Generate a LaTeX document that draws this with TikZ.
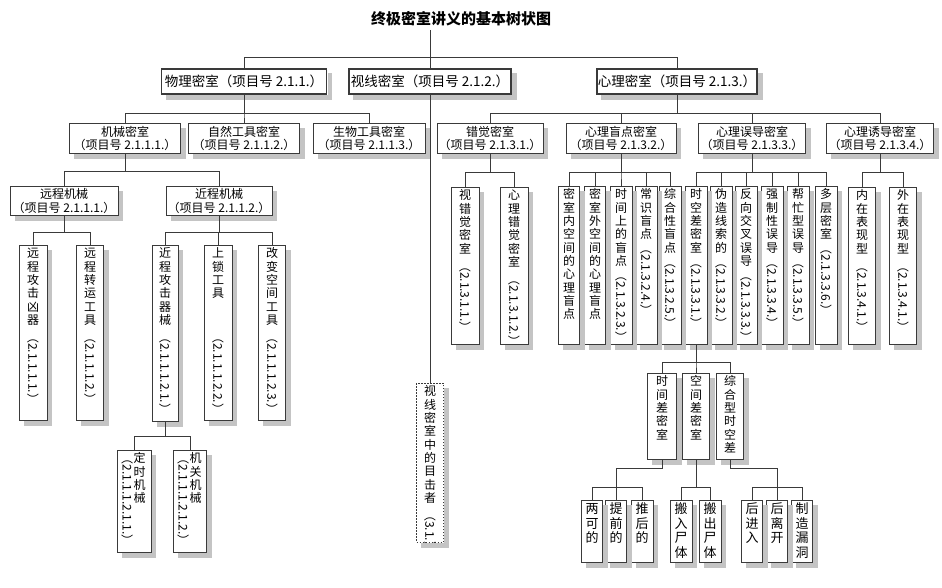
\documentclass[tikz,border=0pt]{standalone}
\usepackage{fontspec}
\setmainfont{Noto Sans CJK SC}
\usepackage{graphicx}
\usetikzlibrary{calc}
\definecolor{lineGray}{HTML}{3A3A3A}
\definecolor{shadeGray}{HTML}{C4C4C4}

\newcommand\ch[1]{\hbox to 1.15em{\hss\vrule width0pt height.88em depth.23em\relax#1\hss}}
\def\vcharsend{}
\def\vchars#1{\vcharsA#1\vcharsend}
\def\vcharsA#1{\ifx\vcharsend#1\else\ch{#1}\expandafter\vcharsA\fi}
\newcommand\vc[2]{\vbox to #1pt{\offinterlineskip\vskip2pt\vchars{#2}\vss}}
\newcommand\vt[4][4pt]{\vbox to #2pt{\offinterlineskip\vskip2pt\vchars{#3}\vskip#1
  \hbox to 1.15em{\hss\rotatebox{-90}{（#4）}\hss}\vss}}
\newcommand\vtt[3]{\vbox to #1pt{\offinterlineskip\vskip2pt
  \hbox{\vtop{\offinterlineskip\null\hbox{\rotatebox{-90}{（#3）}}}\vtop{\offinterlineskip\null\vchars{#2}}}\vss}}

\begin{document}
\begin{tikzpicture}[
  x=1pt, y=-1pt,
  box/.style={draw=lineGray, fill=white, line width=0.8pt},
  mainbox/.style={box, line width=1.6pt, anchor=north, minimum height=25pt, inner sep=0pt,
    font=\fontsize{13.5}{15}\selectfont},
  subbox/.style={box, anchor=north, minimum height=30pt, inner sep=0pt, align=center,
    font=\fontsize{12}{13.3}\selectfont},
  leaf/.style={box, anchor=north, inner sep=0pt, font=\fontsize{12}{13.3}\selectfont},
  lowleaf/.style={leaf, font=\fontsize{13}{14.5}\selectfont},
  witness/.style={dash pattern=on 1.5pt off 1.5pt},
  band/.style={draw=shadeGray, line width=4.6pt},
  conn/.style={draw=lineGray, line width=0.7pt},
]
  \useasboundingbox (0,0) rectangle (942,587);
  \node[font=\fontsize{15}{18}\selectfont\bfseries] (title) at (461,19) {终极密室讲义的基本树状图};

  \node[mainbox, minimum width=165pt] (phy) at (244,68) {物理密室（项目号 2.1.1.）};
  \node[mainbox, minimum width=162pt] (vis) at (430,68) {视线密室（项目号 2.1.2.）};
  \node[mainbox, minimum width=160pt] (psy) at (677,68) {心理密室（项目号 2.1.3.）};

  \node[subbox, minimum width=111pt] (mech) at (125,123) {机械密室\\（项目号 2.1.1.1.）};
  \node[subbox, minimum width=111pt] (natl) at (244,123) {自然工具密室\\（项目号 2.1.1.2.）};
  \node[subbox, minimum width=112pt] (bio) at (369,123) {生物工具密室\\（项目号 2.1.1.3.）};
  \node[subbox, minimum width=106pt] (illu) at (490,123) {错觉密室\\（项目号 2.1.3.1.）};
  \node[subbox, minimum width=110pt] (blind) at (621,123) {心理盲点密室\\（项目号 2.1.3.2.）};
  \node[subbox, minimum width=107pt] (mislead) at (752,123) {心理误导密室\\（项目号 2.1.3.3.）};
  \node[subbox, minimum width=107pt] (induce) at (880,123) {心理诱导密室\\（项目号 2.1.3.4.）};

  \node[subbox, minimum width=108pt, minimum height=29pt] (far) at (64,186) {远程机械\\（项目号 2.1.1.1.）};
  \node[subbox, minimum width=106pt, minimum height=29pt] (near) at (219,186) {近程机械\\（项目号 2.1.1.2.）};

  \node[leaf, minimum width=28pt] (farhit) at (33,245) {\vt{175}{远程攻击凶器}{2.1.1.1.1.}};
  \node[leaf, minimum width=27pt] (farmove) at (90,245) {\vt{175}{远程转运工具}{2.1.1.1.2.}};
  \node[leaf, minimum width=26pt] (nearhit) at (165,245) {\vt{176}{近程攻击器械}{2.1.1.1.2.1.}};
  \node[leaf, minimum width=28pt] (lock) at (218,245) {\vt[30.6pt]{175}{上锁工具}{2.1.1.1.2.2.}};
  \node[leaf, minimum width=27pt] (space) at (272,245) {\vt{175}{改变空间工具}{2.1.1.1.2.3.}};
  \node[leaf, minimum width=34pt] (timer) at (134,450) {\vtt{102}{定时机械}{2.1.1.1.2.1.1.}};
  \node[leaf, minimum width=33pt] (trap) at (190,450) {\vtt{102}{机关机械}{2.1.1.1.2.1.2.}};

  \node[leaf, witness, minimum width=27pt] (eye) at (430,383) {\vt{159}{视线密室中的目击者}{3.1.}};

  \node[leaf, minimum width=28pt] (seeill) at (465,187) {\vt{157}{视错觉密室}{2.1.3.1.1.}};
  \node[leaf, minimum width=28pt] (mindill) at (514,187) {\vt{157}{心理错觉密室}{2.1.3.1.2.}};
  \node[leaf, minimum width=21pt] (inner) at (569,186) {\vc{158}{密室内空间的心理盲点}};
  \node[leaf, minimum width=21pt] (outer) at (595,186) {\vc{158}{密室外空间的心理盲点}};
  \node[leaf, minimum width=22pt] (timebl) at (621,186) {\vt[1pt]{158}{时间上的盲点}{2.1.3.2.3.}};
  \node[leaf, minimum width=22pt] (common) at (646,186) {\vt[1pt]{158}{常识盲点}{2.1.3.2.4.}};
  \node[leaf, minimum width=22pt] (mixed) at (670,186) {\vt[1pt]{158}{综合性盲点}{2.1.3.2.5.}};
  \node[leaf, minimum width=22pt] (timesp) at (696,186) {\vt[1pt]{158}{时空差密室}{2.1.3.3.1.}};
  \node[leaf, minimum width=22pt] (fake) at (721,186) {\vt[1pt]{158}{伪造线索的}{2.1.3.3.2.}};
  \node[leaf, minimum width=22pt] (cross) at (746,186) {\vt[1pt]{158}{反向交叉误导}{2.1.3.3.3.}};
  \node[leaf, minimum width=22pt] (force) at (772,186) {\vt[1pt]{158}{强制性误导}{2.1.3.3.4.}};
  \node[leaf, minimum width=22pt] (help) at (798,186) {\vt[1pt]{158}{帮忙型误导}{2.1.3.3.5.}};
  \node[leaf, minimum width=22pt] (layer) at (826,186) {\vt[1pt]{158}{多层密室}{2.1.3.3.6.}};
  \node[leaf, minimum width=27pt] (inside) at (862,187) {\vt{157}{内在表现型}{2.1.3.4.1.}};
  \node[leaf, minimum width=27pt] (outside) at (903,187) {\vt{157}{外在表现型}{2.1.3.4.1.}};

  \node[leaf, minimum width=29pt] (timediff) at (662,373) {\vc{86}{时间差密室}};
  \node[leaf, minimum width=27pt] (spacediff) at (696,373) {\vc{86}{空间差密室}};
  \node[leaf, minimum width=27pt] (mixdiff) at (730,373) {\vc{86}{综合型时空差}};
  \node[lowleaf, minimum width=21pt] (both) at (592,500) {\vc{62}{两可的}};
  \node[lowleaf, minimum width=21pt] (early) at (616,500) {\vc{62}{提前的}};
  \node[lowleaf, minimum width=22pt] (late) at (642,500) {\vc{62}{推后的}};
  \node[lowleaf, minimum width=22pt] (movein) at (681,500) {\vc{62}{搬入尸体}};
  \node[lowleaf, minimum width=22pt] (moveout) at (710,500) {\vc{62}{搬出尸体}};
  \node[lowleaf, minimum width=21pt] (enter) at (752,500) {\vc{62}{后进入}};
  \node[lowleaf, minimum width=21pt] (leave) at (777,500) {\vc{62}{后离开}};
  \node[lowleaf, minimum width=21pt] (hole) at (802,500) {\vc{62}{制造漏洞}};

  \foreach \n in {phy, vis, psy, mech, natl, bio, illu, blind, mislead, induce, far, near,
      farhit, farmove, nearhit, lock, space, timer, trap, eye, seeill, mindill, inner, outer,
      timebl, common, mixed, timesp, fake, cross, force, help, layer, inside, outside,
      timediff, spacediff, mixdiff, both, early, late, movein, moveout, enter, leave, hole}
    \draw[band] ($(\n.north east)+(2.7,5)$) |- ($(\n.south west)+(5,2.7)$);

  \draw[conn] (title.south -| vis.north) -- (vis.north);
  \draw[conn] (vis.north) ++(0,-11) -| (phy.north);
  \draw[conn] (vis.north) ++(0,-11) -| (psy.north);
  \draw[conn] (vis.south) -- (eye.north);

  \foreach \c in {mech, natl, bio} \draw[conn] (phy.south) -- ++(0,19) -| (\c.north);
  \foreach \c in {far, near} \draw[conn] (mech.south) -- ++(0,18) -| (\c.north);
  \foreach \c in {farhit, farmove} \draw[conn] (far.south) -- ++(0,17) -| (\c.north);
  \foreach \c in {nearhit, lock, space} \draw[conn] (near.south) -- ++(0,17) -| (\c.north);
  \foreach \c in {timer, trap} \draw[conn] (nearhit.south) -- ++(0,15) -| (\c.north);

  \foreach \c in {illu, blind, mislead, induce} \draw[conn] (psy.south) -- ++(0,19) -| (\c.north);
  \foreach \c in {seeill, mindill} \draw[conn] (illu.south) -- ++(0,19) -| (\c.north);
  \foreach \c in {inner, outer, timebl, common, mixed} \draw[conn] (blind.south) -- ++(0,19) -| (\c.north);
  \foreach \c in {timesp, fake, cross, force, help, layer} \draw[conn] (mislead.south) -- ++(0,19) -| (\c.north);
  \foreach \c in {inside, outside} \draw[conn] (induce.south) -- ++(0,19) -| (\c.north);
  \foreach \c in {timediff, spacediff, mixdiff} \draw[conn] (timesp.south) -- ++(0,18) -| (\c.north);
  \draw[conn] (timediff.south) -- ++(0,9) -| (early.north);
  \foreach \c in {both, late} \draw[conn] (early.north) ++(0,-13) -| (\c.north);
  \foreach \c in {movein, moveout} \draw[conn] (spacediff.south) -- ++(0,28) -| (\c.north);
  \draw[conn] (mixdiff.south) -- ++(0,9) -| (leave.north);
  \foreach \c in {enter, hole} \draw[conn] (leave.north) ++(0,-13) -| (\c.north);
\end{tikzpicture}
\end{document}
